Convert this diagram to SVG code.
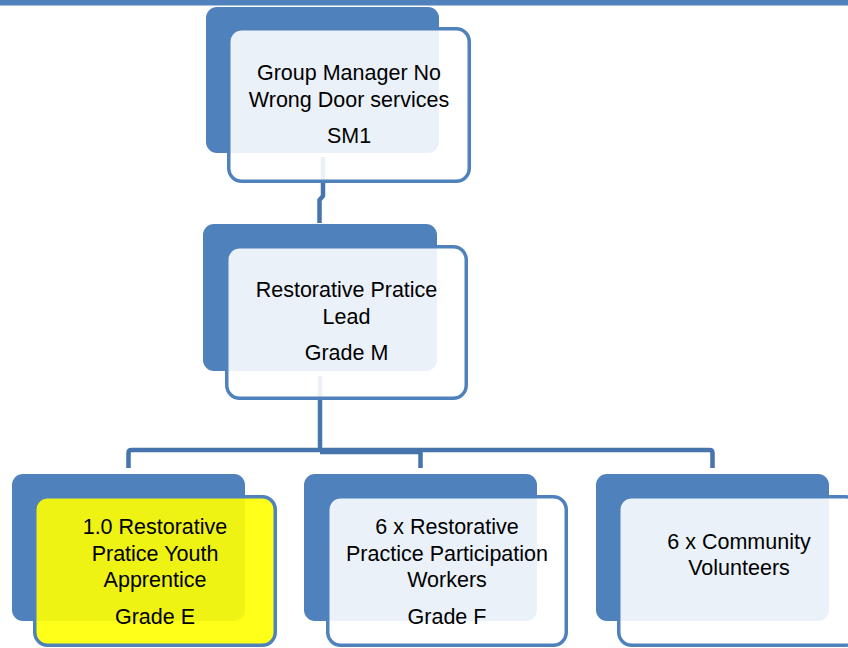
<svg xmlns="http://www.w3.org/2000/svg" width="848" height="648" viewBox="0 0 848 648">
  <defs>
    <style>
      .back { fill: #4F81BD; }
      .front { fill: #FFFFFF; fill-opacity: 0.89; stroke: #4F81BD; stroke-width: 3.5; }
      .front.hl { fill: #FFFF00; fill-opacity: 0.9; }
      .conn { fill: none; stroke: #4674AC; stroke-width: 4.5; }
      .lbl { font-family: "Liberation Sans", Arial, sans-serif; font-size: 21.5px; fill: #000000; text-anchor: middle; }
    </style>
  </defs>

  <rect x="0" y="0" width="848" height="5.5" fill="#4F81BD"/>

  <g id="connectors">
    <path class="conn" d="M323,157 V196 L319.5,200 V223"/>
    <path class="conn" d="M320,376 V452"/>
    <path class="conn" d="M128.5,468 V453 Q128.5,450 131.5,450 H709.5 Q712.5,450 712.5,453 V468"/>
    <path class="conn" d="M320,452 H420.5"/>
    <path class="conn" d="M420.5,450 V468"/>
  </g>

  <g id="group-manager">
    <rect class="back" x="206" y="7" width="233" height="146" rx="11"/>
    <rect class="front" x="228.75" y="28.75" width="240.5" height="152.5" rx="13"/>
    <text class="lbl" x="349" y="80">Group Manager No</text>
    <text class="lbl" x="349" y="107">Wrong Door services</text>
    <text class="lbl" x="349" y="143">SM1</text>
  </g>

  <g id="practice-lead">
    <rect class="back" x="203" y="224" width="234" height="147" rx="11"/>
    <rect class="front" x="226.75" y="246.75" width="239.5" height="151.5" rx="13"/>
    <text class="lbl" x="346.5" y="297">Restorative Pratice</text>
    <text class="lbl" x="346.5" y="324">Lead</text>
    <text class="lbl" x="346.5" y="360">Grade M</text>
  </g>

  <g id="youth-apprentice">
    <rect class="back" x="12" y="474" width="233" height="147" rx="11"/>
    <rect class="front hl" x="34.75" y="496.75" width="240.5" height="148.5" rx="13"/>
    <text class="lbl" x="155" y="534">1.0 Restorative</text>
    <text class="lbl" x="155" y="561">Pratice Youth</text>
    <text class="lbl" x="155" y="587">Apprentice</text>
    <text class="lbl" x="155" y="624">Grade E</text>
  </g>

  <g id="participation-workers">
    <rect class="back" x="304" y="474" width="233" height="147" rx="11"/>
    <rect class="front" x="327.75" y="496.75" width="238.5" height="148.5" rx="13"/>
    <text class="lbl" x="447" y="534">6 x Restorative</text>
    <text class="lbl" x="447" y="561">Practice Participation</text>
    <text class="lbl" x="447" y="587">Workers</text>
    <text class="lbl" x="447" y="624">Grade F</text>
  </g>

  <g id="community-volunteers">
    <rect class="back" x="596" y="474" width="233" height="147" rx="11"/>
    <rect class="front" x="618.75" y="496.75" width="240" height="148.5" rx="13"/>
    <text class="lbl" x="739" y="549">6 x Community</text>
    <text class="lbl" x="739" y="575">Volunteers</text>
  </g>
</svg>
